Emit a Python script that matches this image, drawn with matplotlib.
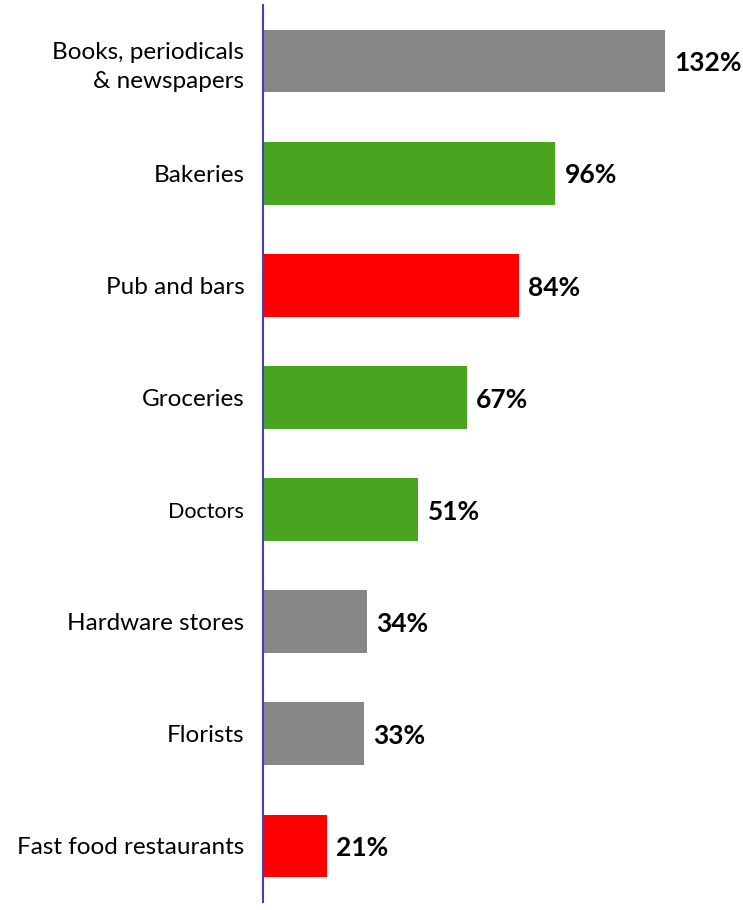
import matplotlib
matplotlib.use("Agg")
import matplotlib.pyplot as plt

categories = ["Books, periodicals\n& newspapers", "Bakeries", "Pub and bars", "Groceries",
              "Doctors", "Hardware stores", "Florists", "Fast food restaurants"]
values = [132, 96, 84, 67, 51, 34, 33, 21]
colors = ["#878787", "#4aa41f", "#ff0000", "#4aa41f", "#4aa41f", "#878787", "#878787", "#ff0000"]
label_sizes = [17.5, 17.5, 17.5, 17.5, 15.5, 17.5, 17.5, 17.5]

plt.rcParams['font.family'] = ['Lato', 'DejaVu Sans']
fig = plt.figure(figsize=(7.43, 9.10), dpi=100)
ax = fig.add_axes([263/743, 1-902/910, 1-263/743, 897/910])
y = list(range(len(categories)))
ax.barh(y, values, height=0.56, color=colors)
ax.set_xlim(0, 157.6)
ax.set_ylim(7.5, -0.5)
for i, v in enumerate(values):
    ax.text(v + 3, i + 0.02, f"{v}%", va="center", ha="left", fontsize=19, fontweight="bold", color="black")
ax.set_yticks(y)
ax.set_yticklabels(categories, ha="right")
for lbl, s in zip(ax.get_yticklabels(), label_sizes):
    lbl.set_fontsize(s)
    lbl.set_multialignment("right")
    lbl.set_linespacing(1.45)
ax.tick_params(axis="y", length=0, pad=13.5)
ax.set_xticks([])
for s in ["top", "right", "bottom"]:
    ax.spines[s].set_visible(False)
ax.spines["left"].set_color("#3f3fbf")
ax.spines["left"].set_linewidth(1.5)
fig.savefig("out.png", dpi=100)
